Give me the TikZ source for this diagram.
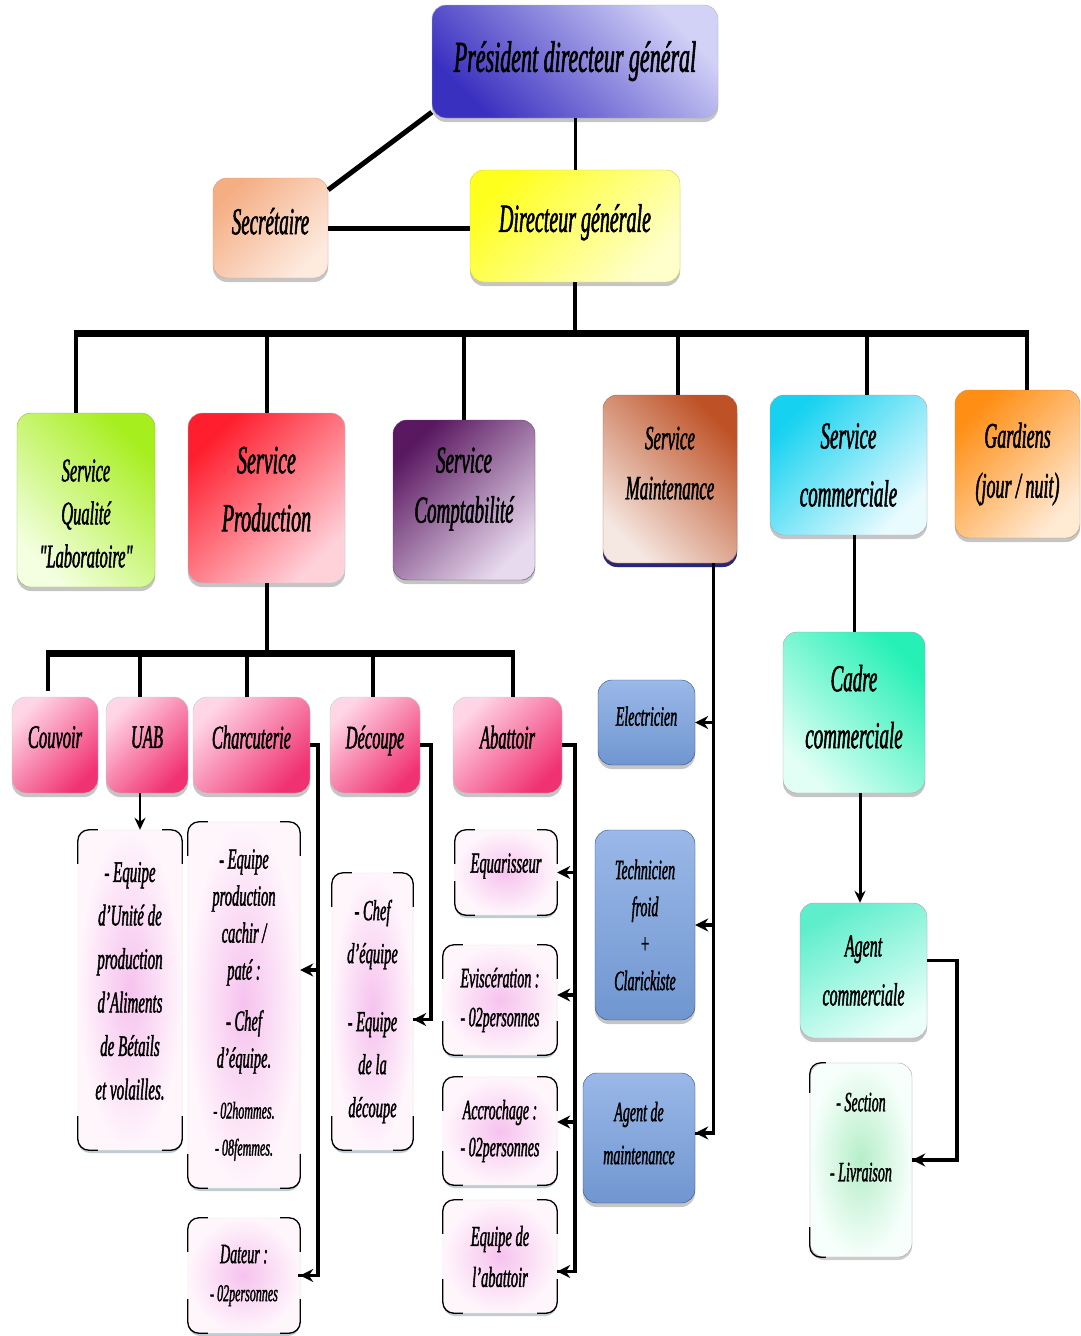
\documentclass[tikz,border=0pt]{standalone}
\usepackage{fontspec}
\newfontfamily\cf{Liberation Serif}[FakeStretch=0.5, FakeBold=1.3]
\usetikzlibrary{shadows,arrows.meta,calc}
\newcommand\fsz[2]{\fontsize{#1}{#2}\selectfont}
\newcommand\cornermarks[1]{%
 \draw[brkline] ([yshift=-34pt]#1.north west) |- ([xshift=20pt]#1.north west);
 \draw[brkline] ([xshift=-20pt]#1.north east) -| ([yshift=-34pt]#1.north east);
 \draw[brkline] ([yshift=34pt]#1.south west) |- ([xshift=20pt]#1.south west);
 \draw[brkline] ([xshift=-20pt]#1.south east) -| ([yshift=34pt]#1.south east);}
\newcommand\leftmarks[1]{%
 \draw[brkline] ([yshift=-30pt]#1.north west) |- ([xshift=16pt]#1.north west);
 \draw[brkline] ([yshift=30pt]#1.south west) |- ([xshift=16pt]#1.south west);}
\definecolor{pdgA}{HTML}{D2D2F7}\definecolor{pdgB}{HTML}{3A30C0}
\definecolor{secA}{HTML}{F5AE84}\definecolor{secB}{HTML}{FDEBE0}
\definecolor{dgA}{HTML}{FFFF1E}\definecolor{dgB}{HTML}{FFFFCC}
\definecolor{quA}{HTML}{A6EE1E}\definecolor{quB}{HTML}{F4FFE2}
\definecolor{prA}{HTML}{FF1E2E}\definecolor{prB}{HTML}{FFD2DA}
\definecolor{coA}{HTML}{5A1860}\definecolor{coB}{HTML}{E8DAEE}
\definecolor{maA}{HTML}{BE5226}\definecolor{maB}{HTML}{F5E8E2}
\definecolor{cmA}{HTML}{16D2F0}\definecolor{cmB}{HTML}{EAFBFF}
\definecolor{gaA}{HTML}{FF8E14}\definecolor{gaB}{HTML}{FFEAD4}
\definecolor{pkA}{HTML}{FFD6E6}\definecolor{pkB}{HTML}{F03272}
\definecolor{blT}{HTML}{9AB8E8}\definecolor{blM}{HTML}{3E6CB4}\definecolor{blB}{HTML}{7096D0}
\definecolor{caA}{HTML}{26F0B6}\definecolor{caB}{HTML}{E2FFF5}
\definecolor{agA}{HTML}{5EEECC}\definecolor{agB}{HTML}{EAFFF9}
\definecolor{l4in}{HTML}{F6C2EE}\definecolor{l4out}{HTML}{FFF6FC}
\definecolor{seIn}{HTML}{B6EEC8}\definecolor{seOut}{HTML}{F6FFFB}
\tikzset{
 x=1pt,y=1pt,
 box/.style={rounded corners=14pt, align=center, inner sep=2pt,
   drop shadow={shadow xshift=0pt, shadow yshift=-4pt, opacity=0.45, fill=gray}},
 diag/.style n args={3}{top color=#1, bottom color=#2, shading angle=#3},
 lvl3/.style={box, diag={pkA}{pkB}{45}, draw=cyan!30!gray!50, minimum height=96pt,
   font={\cf\itshape\fsz{33}{38}}},
 lvl4/.style={rounded corners=12pt, align=center, inner sep=1pt, inner color=l4in, outer color=l4out,
   draw=gray!25, drop shadow={shadow xshift=0pt, shadow yshift=-3pt, opacity=0.5, fill=cyan!25!gray}},
 blue/.style={box, top color=blT, middle color=blM, bottom color=blB, draw=blM!70!black},
 brkline/.style={line width=1.3pt, rounded corners=11pt, black},
 conn/.style={line width=3pt, black},
 thk/.style={line width=5pt, black},
 bus/.style={line width=7pt, black},
 drop/.style={line width=4pt, black},
 arr/.style={line width=3.5pt, black, -{Stealth[length=13pt,width=13pt]}},
 vline/.style={line width=3.5pt, black},
}
\begin{document}
\begin{tikzpicture}
\useasboundingbox (0,0) rectangle (1080,-1336);
\fill[white] (0,0) rectangle (1080,-1336);
% top level
\node[box, diag={pdgA}{pdgB}{-45}, draw=pdgA!60!gray, minimum width=286pt, minimum height=113pt,
  font={\cf\itshape\fsz{44}{48}}] (pdg) at (575,-61.5) {Président directeur général\\[-38pt]};
\node[box, diag={secA}{secB}{45}, draw=secA!70!gray, minimum width=115pt, minimum height=100pt,
  font={\cf\itshape\fsz{38}{42}}] (sec) at (270.5,-228) {Secrétaire\\[-28pt]};
\node[box, diag={dgA}{dgB}{45}, draw=dgA!60!gray, minimum width=210pt, minimum height=112pt,
  font={\cf\itshape\fsz{40}{44}}] (dg) at (575,-226) {Directeur générale\\[-28pt]};
% level 2
\node[box, diag={quA}{quB}{-45}, draw=quA!50!gray, minimum width=138pt, minimum height=174pt,
  font={\cf\itshape\fsz{33}{43}}] (qual) at (86,-500) {\mbox{}\\[6pt]Service\\Qualité\\"Laboratoire"};
\node[box, diag={prA}{prB}{45}, draw=cyan!40!gray!60, minimum width=157pt, minimum height=170pt,
  font={\cf\itshape\fsz{40}{58}}] (prod) at (266.5,-498) {Service\\Production\\[-40pt]};
\node[box, diag={coA}{coB}{45}, draw=coA!60!gray, minimum width=142pt, minimum height=160pt,
  font={\cf\itshape\fsz{38}{50}}] (compta) at (464,-500) {Service\\Comptabilité\\[-20pt]};
\node[box, diag={maA}{maB}{-45}, draw=maA!60!gray, minimum width=134pt, minimum height=168pt,
  font={\cf\itshape\fsz{34}{50}}, drop shadow={shadow xshift=0pt, shadow yshift=-4pt, opacity=0.8, fill=blue!40!black}] (maint) at (670,-479) {Service\\Maintenance\\[-18pt]};
\node[box, diag={cmA}{cmB}{45}, draw=violet!30!gray!60, minimum width=157pt, minimum height=140pt,
  font={\cf\itshape\fsz{38}{58}}] (comm) at (848.5,-465) {Service\\commerciale};
\node[box, diag={gaA}{gaB}{45}, draw=gaA!60!gray, minimum width=125pt, minimum height=148pt,
  font={\cf\itshape\fsz{36}{50}}] (gard) at (1017.5,-464) {Gardiens\\(jour / nuit)};
% level 3
\node[lvl3, minimum width=86pt] (couv) at (55,-745) {Couvoir\\[-22pt]};
\node[lvl3, minimum width=82pt] (uab) at (147,-745) {UAB\\[-22pt]};
\node[lvl3, minimum width=117pt] (charc) at (251.5,-745) {Charcuterie\\[-22pt]};
\node[lvl3, minimum width=90pt] (decoupe) at (375,-745) {Découpe\\[-22pt]};
\node[lvl3, minimum width=109pt] (abat) at (507.5,-745) {Abattoir\\[-22pt]};
% level 4
\node[lvl4, minimum width=104pt, minimum height=320pt, font={\cf\itshape\fsz{30}{43.5}}] (unite) at (130,-990)
  {- Equipe\\d’Unité de\\production\\d’Aliments\\de Bétails\\et volailles.\\[-25pt]};
\node[lvl4, minimum width=112pt, minimum height=366pt, font={\cf\itshape\fsz{29}{37}}] (charcg) at (244,-1005)
  {- Equipe\\production\\cachir /\\paté :\\[14pt]- Chef\\d’équipe.\\[14pt]{\fsz{24}{35}- 02hommes.}\\{\fsz{24}{35}- 08femmes.}};
\node[lvl4, minimum width=112pt, minimum height=115pt, font={\cf\itshape\fsz{28}{38}}] (dateur) at (244,-1275.5)
  {Dateur :\\{\fsz{24}{38}- 02personnes}};
\node[lvl4, minimum width=81pt, minimum height=277pt, font={\cf\itshape\fsz{29}{43}}] (decg) at (372.5,-1011.5)
  {- Chef\\d’équipe\\[25pt]- Equipe\\de la\\découpe};
\node[lvl4, minimum width=102pt, minimum height=85pt, font={\cf\itshape\fsz{29}{38}}] (equar) at (506,-872.5) {Equarisseur\\[-19pt]};
\node[lvl4, minimum width=114pt, minimum height=110pt, font={\cf\itshape\fsz{28}{39}}] (evisc) at (500,-1000)
  {Eviscération :\\- 02personnes};
\node[lvl4, minimum width=114pt, minimum height=108pt, font={\cf\itshape\fsz{28}{37}}] (accro) at (500,-1131)
  {Accrochage :\\- 02personnes};
\node[lvl4, minimum width=114pt, minimum height=113pt, font={\cf\itshape\fsz{29}{41}}] (eqab) at (500,-1256.5)
  {Equipe de\\l’abattoir};
\cornermarks{unite}\cornermarks{charcg}\cornermarks{dateur}\cornermarks{decg}
\cornermarks{equar}\cornermarks{evisc}\cornermarks{accro}\cornermarks{eqab}
% maintenance children
\node[blue, minimum width=97pt, minimum height=85pt, font={\cf\itshape\fsz{28}{36}}] (elec) at (646.5,-722.5) {Electricien\\[-23pt]};
\node[blue, minimum width=100pt, minimum height=190pt, font={\cf\itshape\fsz{28}{37}}] (tech) at (645,-925)
  {Technicien\\froid\\+\\Clarickiste};
\node[blue, minimum width=112pt, minimum height=130pt, font={\cf\itshape\fsz{28}{43}}] (agentm) at (639,-1138)
  {Agent de\\maintenance\\[-33pt]};
% commercial children
\node[box, diag={caA}{caB}{-45}, draw=violet!30!gray!60, minimum width=142pt, minimum height=161pt,
  font={\cf\itshape\fsz{38}{57}}] (cadre) at (854,-712.5) {Cadre\\commerciale\\[-45pt]};
\node[box, diag={agA}{agB}{30}, draw=violet!30!gray!60, minimum width=127pt, minimum height=135pt,
  font={\cf\itshape\fsz{32}{49}}] (agentc) at (863.5,-970.5) {Agent\\commerciale};
\node[rounded corners=14pt, align=center, inner color=seIn, outer color=seOut, draw=violet!30!gray!60,
  drop shadow={shadow xshift=0pt, shadow yshift=-3pt, opacity=0.4, fill=gray},
  minimum width=102pt, minimum height=194pt, font={\cf\itshape\fsz{28}{40}}] (section) at (861,-1160)
  {- Section\\[30pt]- Livraison\\[6pt]};
\leftmarks{section}
% connectors top
\draw[conn] (pdg.south) -- (dg.north);
\draw[thk] ([yshift=-12pt]sec.north east) -- ([yshift=6pt]pdg.south west);
\draw[thk] (sec.east) -- (sec.east -| dg.west);
\coordinate (b1L) at (76,-333);
\coordinate (b1R) at (1027,-333);
\draw[drop] (dg.south) -- (dg.south |- b1L);
\draw[bus] ([xshift=-2pt]b1L) -- ([xshift=2pt]b1R);
\draw[drop] (b1L) -- (b1L |- qual.north);
\draw[drop] (prod.north |- b1L) -- (prod.north);
\draw[drop] (compta.north |- b1L) -- (compta.north);
\draw[drop] ([xshift=8pt]maint.north |- b1L) -- ([xshift=8pt]maint.north);
\draw[drop] ([xshift=18pt]comm.north |- b1L) -- ([xshift=18pt]comm.north);
\draw[drop] (b1R) -- (b1R |- gard.north);
% production bus
\coordinate (b2L) at (48,-653);
\coordinate (b2R) at (513,-653);
\draw[drop] (prod.south) -- (prod.south |- b2L);
\draw[bus] ([xshift=-2pt]b2L) -- ([xshift=2pt]b2R);
\draw[drop] (b2L) -- ([yshift=6pt]b2L |- couv.north);
\draw[drop] ([xshift=-7pt]uab.north |- b2L) -- ([xshift=-7pt]uab.north);
\draw[drop] ([xshift=-5pt]charc.north |- b2L) -- ([xshift=-5pt]charc.north);
\draw[drop] ([xshift=-2pt]decoupe.north |- b2L) -- ([xshift=-2pt]decoupe.north);
\draw[drop] (b2R) -- (b2R |- abat.north);
% UAB
\draw[line width=2.5pt, -{Stealth[length=12pt,width=11pt]}] ([xshift=-7pt]uab.south) -- ([xshift=-7pt]uab.south |- unite.north);
% Charcuterie
\coordinate (cv) at ($(charc.east)+(8,0)$);
\coordinate (cgE) at ([yshift=35pt]charcg.east);
\draw[vline] (charc.east) -- (cv) |- ([xshift=-2pt]dateur.east);
\draw[arr] (cv |- dateur.east) -- (dateur.east);
\draw[arr] (cv |- cgE) -- (cgE);
% Decoupe
\coordinate (dv) at ($(decoupe.east)+(11,0)$);
\coordinate (dgE) at ([yshift=-8pt]decg.east);
\draw[vline] (decoupe.east) -- (dv) |- (dgE);
\draw[arr] (dv |- dgE) -- (dgE);
% Abattoir
\coordinate (av) at ($(abat.east)+(13,0)$);
\coordinate (evE) at ([yshift=5pt]evisc.east);
\coordinate (acE) at ([yshift=9pt]accro.east);
\coordinate (eaE) at ([yshift=-15pt]eqab.east);
\draw[vline] (abat.east) -- (av) |- (eaE);
\draw[arr] (av |- equar.east) -- (equar.east);
\draw[arr] (av |- evE) -- (evE);
\draw[arr] (av |- acE) -- (acE);
\draw[arr] (av |- eaE) -- (eaE);
% Maintenance
\coordinate (mv) at ($(maint.south)+(43,0)$);
\coordinate (amE) at ([yshift=5pt]agentm.east);
\draw[line width=3pt] (mv) |- (amE);
\draw[arr] (mv |- elec.east) -- (elec.east);
\draw[arr] (mv |- tech.east) -- (tech.east);
\draw[arr] (mv |- amE) -- (amE);
% Commercial
\draw[conn] (cadre.north |- comm.south) -- (cadre.north);
\draw[line width=3pt, -{Stealth[length=12pt,width=11pt]}] ([xshift=6pt]cadre.south) -- ([xshift=6pt]cadre.south |- agentc.north);
\coordinate (acS) at ([yshift=10pt]agentc.east);
\coordinate (sv) at ($(acS)+(30,0)$);
\draw[line width=3.5pt] (acS) -- (sv) |- (section.east);
\draw[arr] (sv |- section.east) -- (section.east);
\end{tikzpicture}
\end{document}
